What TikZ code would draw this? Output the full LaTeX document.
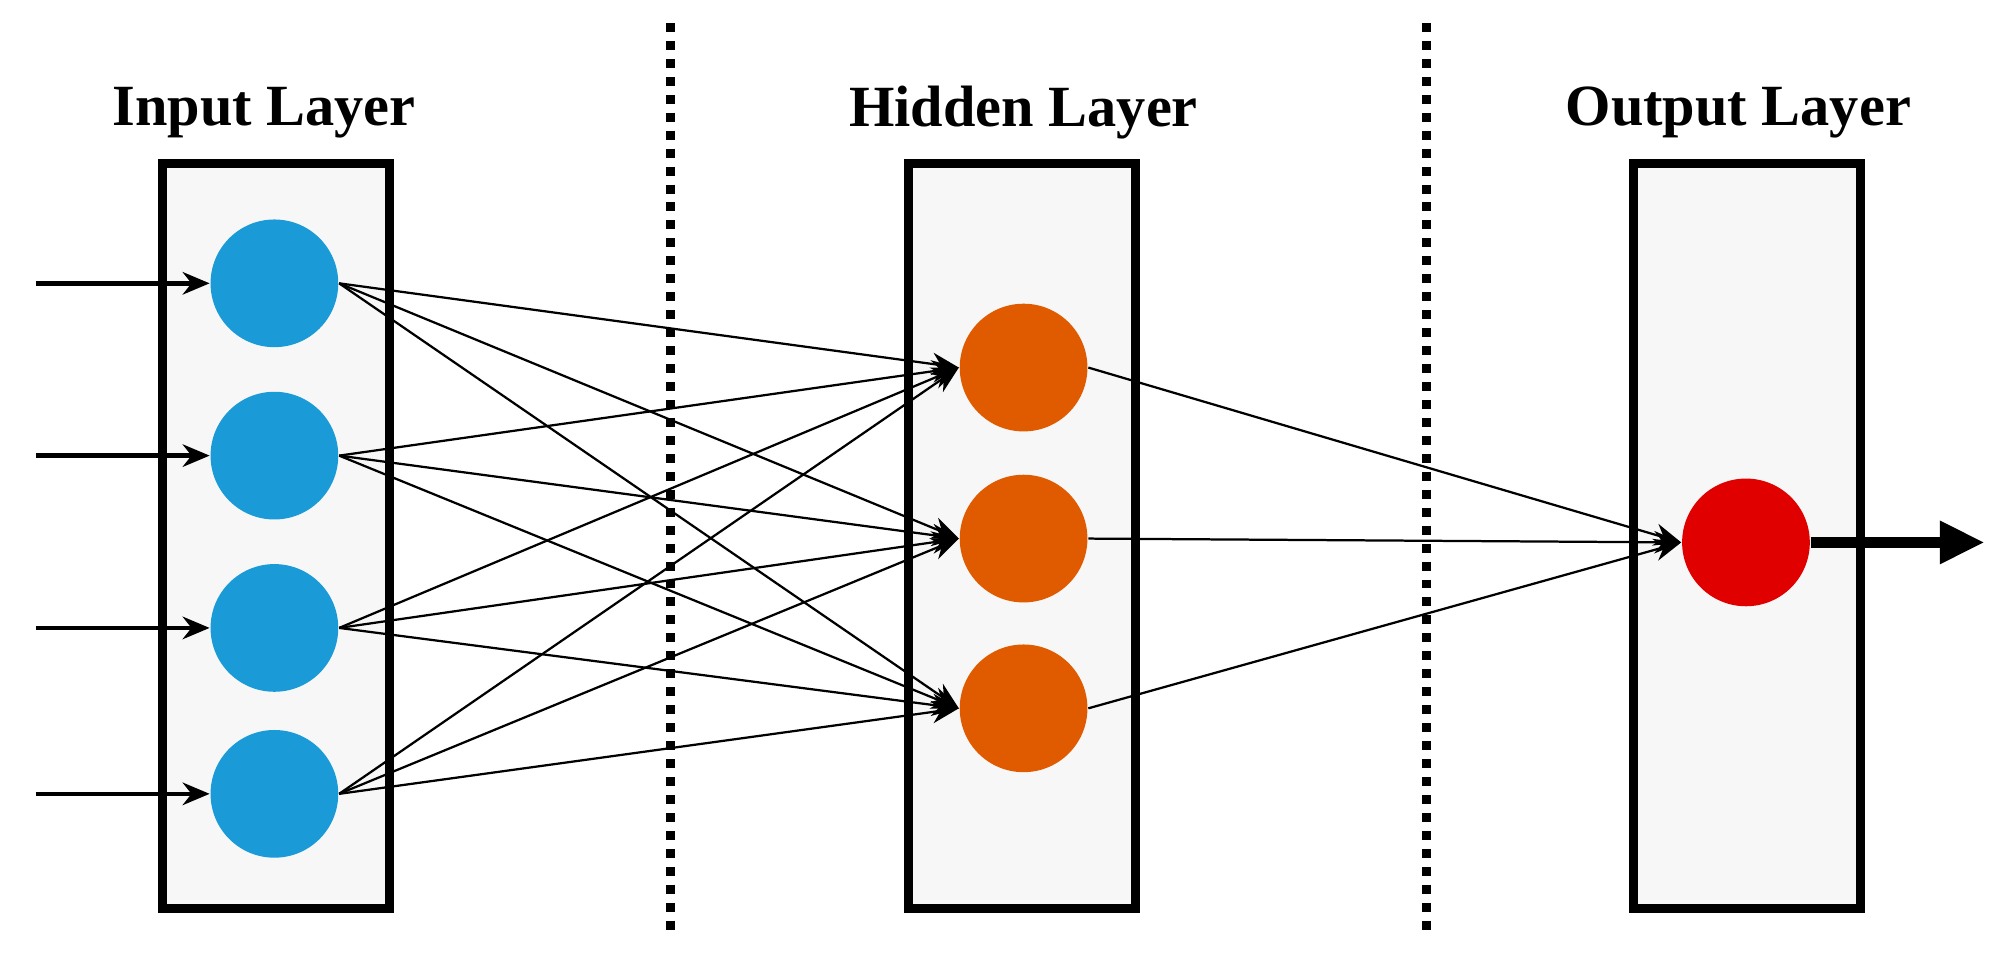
\documentclass[tikz,border=0pt]{standalone}
\usepackage{fontspec}
\setmainfont{Liberation Serif}
\usetikzlibrary{arrows.meta}
\definecolor{inblue}{RGB}{26,154,214}
\definecolor{hidorange}{RGB}{224,90,0}
\definecolor{outred}{RGB}{224,0,0}
\definecolor{boxgray}{RGB}{247,247,247}

\begin{document}
\begin{tikzpicture}[
		x=0.01cm, y=-0.01cm,
		layer/.style={rectangle, draw, line width=2pt, fill=boxgray, minimum width=1.78cm, minimum height=5.84cm},
		title/.style={font=\bfseries\fontsize{13}{15}\selectfont},
		neuron/.style={circle, minimum size=1cm, inner sep=0pt},
		edge/.style={-{Stealth[length=6pt,width=5pt]}, line width=0.5pt},
		feed/.style={-{Stealth[length=6pt,width=5pt]}, line width=1pt}
		]
		\useasboundingbox (0,0) rectangle (1560,752);
		
		% Layers
		\node[layer] (in-box) at (216,420) {};
		\node[layer] (hid-box) at (801,420) {};
		\node[layer] (out-box) at (1369,420) {};
		\node[title] (in-title) at (207,88) {Input Layer};
		\node[title] (hid-title) at (802,88) {Hidden Layer};
		\node[title] (out-title) at (1362,88) {Output Layer};
		
		% Separators
		\coordinate (sep1-top) at (525,18);
		\coordinate (sep1-bot) at (525,735);
		\coordinate (sep2-top) at (1118,18);
		\coordinate (sep2-bot) at (1118,735);
		\draw[line width=2pt, dotted] (sep1-top) -- (sep1-bot);
		\draw[line width=2pt, dotted] (sep2-top) -- (sep2-bot);
		
		% Neurons
		\foreach \i/\y in {1/222, 2/357, 3/492, 4/622} {
			\node[neuron, fill=inblue] (in\i) at (215,\y) {};
			\coordinate (src\i) at (28,\y);
			\draw[feed] (src\i) -- (in\i);
		}
		\foreach \j/\y in {1/288, 2/422, 3/555}
			\node[neuron, fill=hidorange] (hid\j) at (802,\y) {};
		\node[neuron, fill=outred] (out) at (1368,425) {};
		
		% Connections
		\foreach \i in {1,...,4}
			\foreach \j in {1,2,3}
				\draw[edge] (in\i.east) -- (hid\j.west);
		\foreach \j in {1,2,3}
			\draw[edge] (hid\j.east) -- (out.west);
		\coordinate (result) at (1555,425);
		\draw[-{Triangle[length=10pt,width=9pt]}, line width=2.5pt] (out) -- (result);
	\end{tikzpicture}
\end{document}
